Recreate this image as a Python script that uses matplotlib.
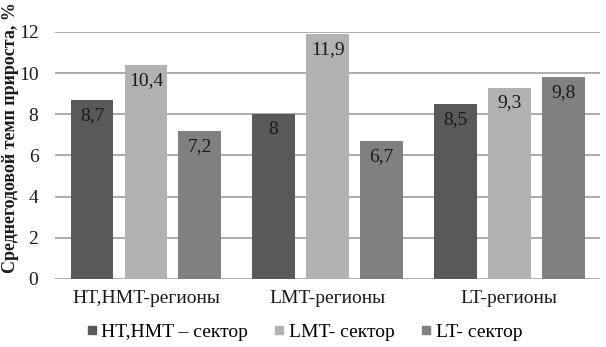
import numpy as np
import matplotlib.pyplot as plt
from matplotlib.lines import Line2D

plt.rcParams['font.family'] = ['Liberation Serif', 'DejaVu Serif']

# data
groups = ['HT,HMT-регионы', 'LMT-регионы', 'LT-регионы']
series = ['HT,HMT – сектор', 'LMT- сектор', 'LT- сектор']
hthmt = [8.7, 8.0, 8.5]
lmt = [10.4, 11.9, 9.3]
lt = [7.2, 6.7, 9.8]
labels = [['8,7', '8', '8,5'], ['10,4', '11,9', '9,3'], ['7,2', '6,7', '9,8']]
colors = ['#595959', '#b2b2b2', '#808080']

fig = plt.figure(figsize=(6.06, 3.47), dpi=100)
ax = fig.add_axes([0.091, 0.196, 0.899, 0.712])

x = np.arange(len(groups))
w = 0.236
step = 0.297
for i, vals in enumerate([hthmt, lmt, lt]):
    bars = ax.bar(x + (i - 1) * step, vals, width=w, color=colors[i], zorder=2)
    for b, lab in zip(bars, labels[i]):
        ax.annotate(lab, (b.get_x() + b.get_width() / 2, b.get_height()),
                    xytext=(0, -5), textcoords='offset points',
                    ha='center', va='top', fontsize=14, color='#1a1a1a', zorder=3)

ax.set_xlim(-0.5, 2.5)
ax.set_ylim(0, 12)
ax.set_yticks(range(0, 13, 2))
ax.yaxis.grid(True, color='#a6a6a6', linewidth=1.3, zorder=0)
ax.set_axisbelow(True)
for s in ax.spines.values():
    s.set_visible(False)
ax.tick_params(length=0, labelsize=14, colors='#1a1a1a')
ax.tick_params(axis='y', pad=12)
ax.tick_params(axis='x', pad=8)
ax.set_xticks(x)
ax.set_xticklabels(groups)

# y label sits at the left edge of the figure
fig.text(0.003, 0.605, 'Среднегодовой темп прироста, %', rotation=90,
         ha='left', va='center', fontsize=13, fontweight='bold', color='#1a1a1a')

handles = [Line2D([], [], marker='s', linestyle='', color=c, markersize=6) for c in colors]
fig.legend(handles, series, loc='center', bbox_to_anchor=(0.5, 0.042), ncol=3,
           frameon=False, fontsize=14, handletextpad=0.1, columnspacing=1.2,
           handlelength=0.8)

fig.savefig('out.png', dpi=100)
